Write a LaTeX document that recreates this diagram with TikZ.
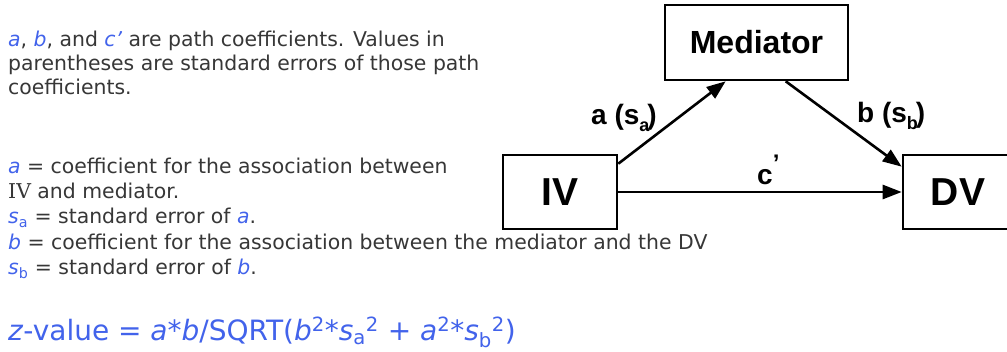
\documentclass[tikz,border=0pt]{standalone}
\usepackage{fontspec}
\setmainfont{DejaVu Sans}
\newfontfamily\diagfont{Liberation Sans}
\newfontfamily\ivfont{DejaVu Serif}
\usetikzlibrary{arrows.meta}
\definecolor{blu}{RGB}{66,99,235}
\definecolor{txt}{RGB}{55,55,55}
\newcommand{\bl}[1]{{\color{blu}\itshape #1}}
\newcommand{\blu}[1]{{\color{blu}#1}}
\newcommand{\lsub}[1]{\raisebox{-7pt}{\fontsize{18}{18}\selectfont #1}}
\begin{document}
\begin{tikzpicture}[x=1pt,y=-1pt,
  box/.style={draw, line width=2.6pt, inner sep=0pt},
  conn/.style={line width=2.6pt, -{Triangle[length=19pt,width=14pt]}},
  body/.style={anchor=base west, inner sep=0pt, text=txt, font=\fontsize{20.4}{24}\selectfont},
  formula/.style={anchor=base west, inner sep=0pt, text=blu, font=\fontsize{28}{32}\selectfont},
  lbl/.style={anchor=base west, inner sep=0pt, font=\diagfont\bfseries\fontsize{28}{30}\selectfont}]
\useasboundingbox (0,0) rectangle (1007,352);
\clip (0,0) rectangle (1007,352);
\fill[white] (0,0) rectangle (1007,352);
% boxes
\node[box, minimum width=183pt, minimum height=75pt, font=\diagfont\bfseries\fontsize{32}{34}\selectfont] (med) at (756.5,42.5) {Mediator};
\node[box, minimum width=114pt, minimum height=74pt, font=\diagfont\bfseries\fontsize{39}{40}\selectfont] (iv) at (560,192) {IV};
\node[box, minimum width=110pt, minimum height=74pt, font=\diagfont\bfseries\fontsize{39}{40}\selectfont] (dv) at (958,192) {DV};
% connectors
\coordinate (a1) at ([yshift=-10pt]iv.north east);
\coordinate (a2) at ([xshift=62pt]med.south west);
\coordinate (b1) at ([xshift=122pt]med.south west);
\coordinate (b2) at ([yshift=-13pt]dv.north west);
\draw[conn] (a1) -- (a2);
\draw[conn] (b1) -- (b2);
\draw[conn] (iv.east) -- (dv.west);
% path labels
\node[lbl] (la) at (591,125) {a (s\lsub{a}\kern-2pt)};
\node[lbl] (lb) at (857,123) {b (s\lsub{b}\kern-2pt)};
\node[lbl] (lc) at (757,185) {c\raisebox{13pt}{\fontsize{24}{24}\selectfont\textquoteright}};
% explanatory text
\node[body] (t1) at (8,47) {\bl{a}, \bl{b}, and \bl{c\textquoteright} are path coefficients. Values in};
\node[body] (t2) at (8,71) {parentheses are standard errors of those path};
\node[body] (t3) at (8,95) {coefficients.};
\node[body] (t4) at (8,174) {\bl{a} = coefficient for the association between};
\node[body] (t5) at (8,199) {{\ivfont IV} and mediator.};
\node[body] (t6) at (8,224) {\bl{s}\blu{\textsubscript{a}} = standard error of \bl{a}.};
\node[body] (t7) at (8,250) {\bl{b} = coefficient for the association between the mediator and the DV};
\node[body] (t8) at (8,275) {\bl{s}\blu{\textsubscript{b}} = standard error of \bl{b}.};
\node[formula] (f) at (8,341) {\textit{z}-value = \textit{a}*\textit{b}/SQRT(\textit{b}\textsuperscript{2}*\textit{s}\textsubscript{a}\textsuperscript{2} + \textit{a}\textsuperscript{2}*\textit{s}\textsubscript{b}\textsuperscript{2})};
\end{tikzpicture}
\end{document}
